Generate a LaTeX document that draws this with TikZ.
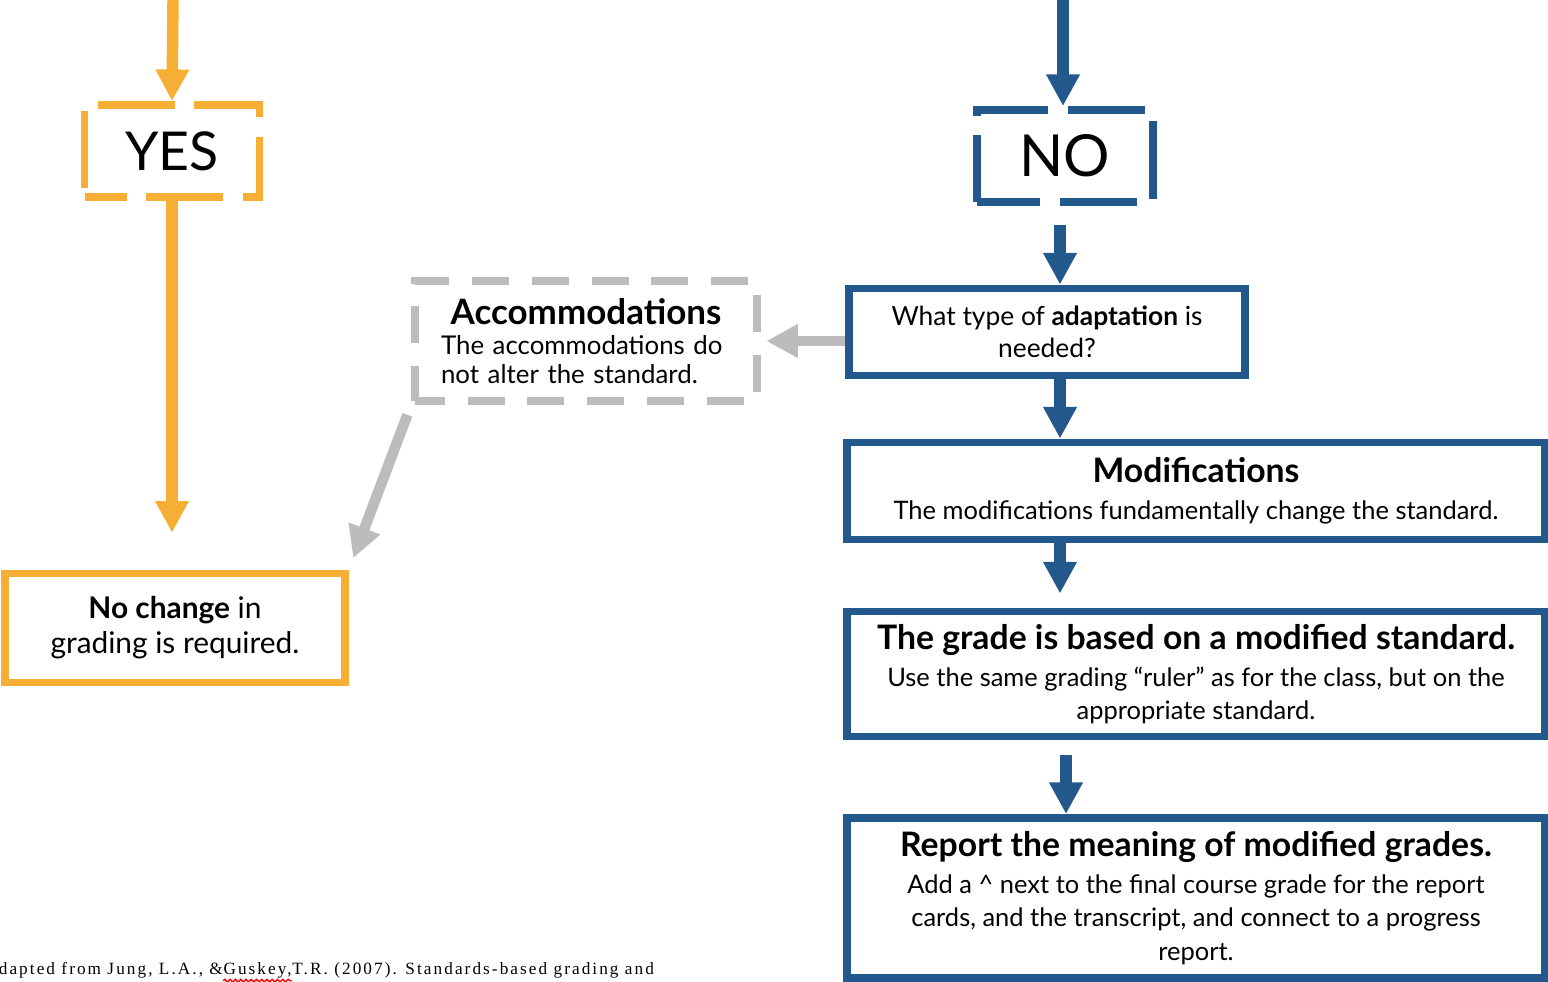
\documentclass[tikz,border=0pt]{standalone}
\usepackage{fontspec}
\setmainfont{Lato}
\newfontfamily\citefont[LetterSpace=12]{Liberation Serif}
\usetikzlibrary{arrows.meta,positioning,decorations.pathmorphing}
\definecolor{oui}{RGB}{246,174,52}
\definecolor{non}{RGB}{34,88,140}
\definecolor{gris}{RGB}{188,188,188}

\newcommand{\titre}{\fontsize{19.2}{22}\selectfont\bfseries}
\newcommand{\corps}{\fontsize{14.5}{19}\selectfont}

\begin{document}
\begin{tikzpicture}[x=0.02cm,y=-0.02cm,
  fleche/.style={line width=6.5pt, -{Triangle[length=18pt,width=18pt]}},
  boite/.style={draw=non, line width=4.5pt, fill=white, align=center, inner sep=4pt, font=\corps},
  tiret/.style={line width=4.5pt, dash pattern=on 44pt off 11pt, align=center},
  grisfleche/.style={gris, line width=6pt, -{Triangle[length=18pt,width=18pt]}}]

\useasboundingbox (0,0) rectangle (1548,981);

% le cote OUI
\coordinate (hautoui) at (173,0);
\node[tiret, draw=oui, dash phase=20pt, minimum width=3.5cm, minimum height=1.84cm,
      font=\fontsize{30.5}{36}\selectfont] (oui) at (172,151) {YES};
\node[boite, draw=oui, minimum width=6.8cm, minimum height=2.18cm,
      font=\fontsize{17}{20}\selectfont] (rien) at (175,628) {\textbf{No change} in\\grading is required.};

\draw[fleche, oui] (hautoui) -- (oui.north);
\draw[fleche, oui, shorten >=21pt] (oui.south) -- (oui.south |- rien.north);

% le cote NON
\coordinate (hautnon) at (1063,0);
\node[tiret, draw=non, dash phase=8pt, minimum width=3.52cm, minimum height=1.84cm,
      font=\fontsize{33}{36}\selectfont] (non) at (1065,156) {NO};
\node[boite, minimum width=7.92cm, minimum height=1.74cm,
      font=\fontsize{15}{18.5}\selectfont] (type) at (1047,332)
   {What type of \textbf{adaptation} is\\needed?};
\node[boite, minimum width=13.96cm, minimum height=1.94cm] (modif) at (1196,491)
   {{\titre Modifications}\\[2pt]The modifications fundamentally change the standard.};
\node[boite, minimum width=13.96cm, minimum height=2.5cm] (note) at (1196,674)
   {{\titre The grade is based on a modified standard.}\\[2pt]
    Use the same grading “ruler” as for the class, but on the\\appropriate standard.};
\node[boite, minimum width=13.96cm, minimum height=3.2cm] (bulletin) at (1196,898)
   {{\titre Report the meaning of modified grades.}\\[2pt]
    Add a \textasciicircum{} next to the final course grade for the report\\
    cards, and the transcript, and connect to a progress\\report.};

\draw[fleche, non] (hautnon) -- (hautnon |- non.north);
\draw[fleche, non, shorten <=11pt] (non.south -| 1060,0) -- (type.north -| 1060,0);
\draw[fleche, non] (type.south -| 1060,0) -- (modif.north -| 1060,0);
\draw[fleche, non, shorten >=8pt] (modif.south -| 1060,0) -- (note.north -| 1060,0);
\draw[fleche, non, shorten <=8pt] (note.south -| 1066,0) -- (bulletin.north -| 1066,0);

% amenagements
\node[draw=gris, line width=4.5pt, dash pattern=on 21pt off 13pt, dash phase=4pt,
      minimum width=6.84cm, minimum height=2.4cm, text width=5.8cm, align=left,
      font=\fontsize{14.7}{16.5}\selectfont] (amenag) at (586,341)
   {\centerline{\fontsize{19.9}{22}\selectfont\bfseries Accommodations}\par\vspace{1pt}
    The accommodations do\\not alter the standard.};

\draw[grisfleche, shorten >=3pt] (type.west |- amenag.east) -- (amenag.east);
\draw[grisfleche, shorten <=6pt, shorten >=7pt] (amenag.south west) -- (rien.north east);

% la source, coupee a gauche
\node[anchor=base west, inner sep=0pt, font=\citefont\fontsize{9.8}{11}\selectfont] (src1) at (-16,974)
   {Adapted from Jung, L.A., \&};
\node[anchor=base west, inner sep=0pt, font=\citefont\fontsize{9.8}{11}\selectfont] (src2) at (src1.base east)
   {Guskey,};
\node[anchor=base west, inner sep=0pt, font=\citefont\fontsize{9.8}{11}\selectfont] (src3) at (src2.base east)
   {T.R. (2007). Standards-based grading and};
\draw[red, line width=0.8pt, decorate, decoration={snake, amplitude=0.8pt, segment length=3pt}]
   ([yshift=-1.5pt]src2.south west) -- ([yshift=-1.5pt]src2.south east);

\end{tikzpicture}
\end{document}
